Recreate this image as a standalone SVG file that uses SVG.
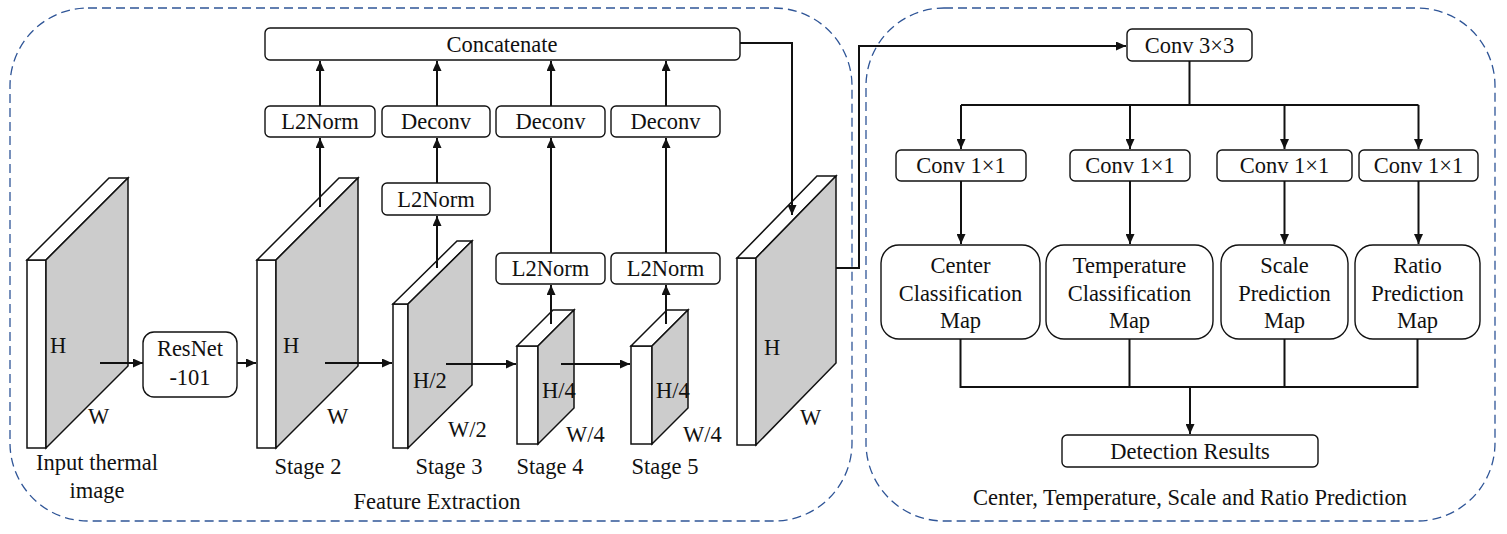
<svg xmlns="http://www.w3.org/2000/svg" width="1507" height="534" viewBox="0 0 1507 534">
<style>
text{font-family:"Liberation Serif","Times New Roman",serif;font-size:22.5px;fill:#111;}
.c{text-anchor:middle;}
.panel{fill:none;stroke:#2f5597;stroke-width:1.3;stroke-dasharray:9 5;}
.box{fill:#fff;stroke:#111;stroke-width:1.4;}
.fw{fill:#fff;stroke:#111;stroke-width:1.5;stroke-linejoin:miter;}
.fg{fill:#cccccc;stroke:#111;stroke-width:1.5;stroke-linejoin:miter;}
.ln{fill:none;stroke:#111;stroke-width:2;}
.ar{fill:none;stroke:#111;stroke-width:2;marker-end:url(#ah);}
</style>
<defs>
<marker id="ah" markerUnits="userSpaceOnUse" markerWidth="11" markerHeight="9" refX="10" refY="4.5" orient="auto">
<path d="M0,0 L10,4.5 L0,9 z" fill="#111"/>
</marker>
</defs>
<rect width="1507" height="534" fill="#fff"/>
<g id="panel-feature">
<rect class="panel" x="10" y="8" width="842" height="513" rx="78" ry="78"/>
<text class="c" x="437" y="509">Feature Extraction</text>
</g>
<g id="panel-prediction">
<rect class="panel" x="866" y="8" width="629" height="513" rx="78" ry="78"/>
<text class="c" x="1190" y="505">Center, Temperature, Scale and Ratio Prediction</text>
</g>
<g id="input-map">
<rect class="fw" x="27" y="260" width="19" height="188"/>
<polygon class="fw" points="27,260 109,178 128,178 46,260"/>
<polygon class="fg" points="46,260 128,178 128,366 46,448"/>
<text x="50" y="353">H</text>
<text x="88" y="424">W</text>
<text class="c" x="97" y="470">Input thermal</text>
<text class="c" x="97" y="498">image</text>
</g>
<g id="stage2">
<rect class="fw" x="257" y="260" width="19" height="188"/>
<polygon class="fw" points="257,260 339,178 358,178 276,260"/>
<polygon class="fg" points="276,260 358,178 358,366 276,448"/>
<text x="283" y="353">H</text>
<text x="327" y="424">W</text>
<text class="c" x="308" y="474">Stage 2</text>
</g>
<g id="stage3">
<rect class="fw" x="393" y="304" width="15" height="144"/>
<polygon class="fw" points="393,304 457,241 472,241 408,304"/>
<polygon class="fg" points="408,304 472,241 472,385 408,448"/>
<text x="413" y="388">H/2</text>
<text x="448" y="437">W/2</text>
<text class="c" x="449" y="474">Stage 3</text>
</g>
<g id="stage4">
<rect class="fw" x="517" y="346" width="21" height="98"/>
<polygon class="fw" points="517,346 553,310 574,310 538,346"/>
<polygon class="fg" points="538,346 574,310 574,408 538,444"/>
<text x="542" y="398">H/4</text>
<text x="566" y="442">W/4</text>
<text class="c" x="550" y="474">Stage 4</text>
</g>
<g id="stage5">
<rect class="fw" x="631" y="346" width="21" height="98"/>
<polygon class="fw" points="631,346 667,310 688,310 652,346"/>
<polygon class="fg" points="652,346 688,310 688,408 652,444"/>
<text x="656" y="398">H/4</text>
<text x="683" y="442">W/4</text>
<text class="c" x="665" y="474">Stage 5</text>
</g>
<g id="concat-map">
<rect class="fw" x="737" y="258" width="19" height="187"/>
<polygon class="fw" points="737,258 817,176 836,176 756,258"/>
<polygon class="fg" points="756,258 836,176 836,363 756,445"/>
<text x="764" y="355">H</text>
<text x="800" y="425">W</text>
</g>
<g id="connectors">
<path class="ar" d="M100,363 H143"/>
<path class="ar" d="M237,363 H256"/>
<path class="ar" d="M325,363 H392"/>
<path class="ar" d="M446,364 H516"/>
<path class="ar" d="M561,364 H630"/>
<path class="ar" d="M320,207 V138"/>
<path class="ar" d="M320,106 V61"/>
<path class="ar" d="M437,268 V216"/>
<path class="ar" d="M437,183 V138"/>
<path class="ar" d="M437,106 V61"/>
<path class="ar" d="M551,324 V285"/>
<path class="ar" d="M551,253 V138"/>
<path class="ar" d="M551,106 V61"/>
<path class="ar" d="M666,324 V285"/>
<path class="ar" d="M666,253 V138"/>
<path class="ar" d="M666,106 V61"/>
<path class="ar" d="M740,43 H792 V215"/>
<path class="ar" d="M836,268 H859 V46 H1126"/>
<path class="ln" d="M1189.5,61 V105 M961,105 H1418.5"/>
<path class="ar" d="M961,105 V149"/>
<path class="ar" d="M1130,105 V149"/>
<path class="ar" d="M1284.5,105 V149"/>
<path class="ar" d="M1418.5,105 V149"/>
<path class="ar" d="M961,181 V244"/>
<path class="ar" d="M1130,181 V244"/>
<path class="ar" d="M1284.5,181 V244"/>
<path class="ar" d="M1418.5,181 V244"/>
<path class="ln" d="M960.5,339 V387 H1417.5 V339 M1129.5,339 V387 M1284.5,339 V387"/>
<path class="ar" d="M1190,387 V434"/>
</g>
<g id="resnet">
<rect class="box" x="143" y="332" width="94" height="65" rx="11"/>
<text class="c" x="190" y="356">ResNet</text>
<text class="c" x="190" y="385">-101</text>
</g>
<g id="concatenate">
<rect class="box" x="265" y="28" width="475" height="32" rx="5"/>
<text class="c" x="502" y="52">Concatenate</text>
</g>
<g id="l2norm-s2">
<rect class="box" x="265" y="106" width="110" height="31" rx="5"/>
<text class="c" x="320" y="129">L2Norm</text>
</g>
<g id="deconv-s3">
<rect class="box" x="382" y="106" width="108" height="31" rx="5"/>
<text class="c" x="436" y="129">Deconv</text>
</g>
<g id="deconv-s4">
<rect class="box" x="496" y="106" width="109" height="31" rx="5"/>
<text class="c" x="550.5" y="129">Deconv</text>
</g>
<g id="deconv-s5">
<rect class="box" x="611" y="106" width="109" height="31" rx="5"/>
<text class="c" x="665.5" y="129">Deconv</text>
</g>
<g id="l2norm-s3">
<rect class="box" x="382" y="183" width="108" height="32" rx="5"/>
<text class="c" x="436" y="207">L2Norm</text>
</g>
<g id="l2norm-s4">
<rect class="box" x="496" y="253" width="109" height="31" rx="5"/>
<text class="c" x="550.5" y="276">L2Norm</text>
</g>
<g id="l2norm-s5">
<rect class="box" x="611" y="253" width="109" height="31" rx="5"/>
<text class="c" x="665.5" y="276">L2Norm</text>
</g>
<g id="conv3x3">
<rect class="box" x="1127" y="29" width="125" height="32" rx="5"/>
<text class="c" x="1189.5" y="53">Conv 3×3</text>
</g>
<g id="conv1x1-a">
<rect class="box" x="896" y="150" width="130" height="31" rx="5"/>
<text class="c" x="961" y="173">Conv 1×1</text>
</g>
<g id="conv1x1-b">
<rect class="box" x="1070" y="150" width="120" height="31" rx="5"/>
<text class="c" x="1130" y="173">Conv 1×1</text>
</g>
<g id="conv1x1-c">
<rect class="box" x="1217" y="150" width="135" height="31" rx="5"/>
<text class="c" x="1284.5" y="173">Conv 1×1</text>
</g>
<g id="conv1x1-d">
<rect class="box" x="1359" y="150" width="119" height="31" rx="5"/>
<text class="c" x="1418.5" y="173">Conv 1×1</text>
</g>
<g id="center-map">
<rect class="box" x="881" y="245" width="159" height="94" rx="18"/>
<text class="c" x="960.5" y="273">Center</text>
<text class="c" x="960.5" y="301">Classification</text>
<text class="c" x="960.5" y="328">Map</text>
</g>
<g id="temperature-map">
<rect class="box" x="1046" y="245" width="167" height="94" rx="18"/>
<text class="c" x="1129.5" y="273">Temperature</text>
<text class="c" x="1129.5" y="301">Classification</text>
<text class="c" x="1129.5" y="328">Map</text>
</g>
<g id="scale-map">
<rect class="box" x="1221" y="245" width="127" height="94" rx="18"/>
<text class="c" x="1284.5" y="273">Scale</text>
<text class="c" x="1284.5" y="301">Prediction</text>
<text class="c" x="1284.5" y="328">Map</text>
</g>
<g id="ratio-map">
<rect class="box" x="1355" y="245" width="125" height="94" rx="18"/>
<text class="c" x="1417.5" y="273">Ratio</text>
<text class="c" x="1417.5" y="301">Prediction</text>
<text class="c" x="1417.5" y="328">Map</text>
</g>
<g id="detection">
<rect class="box" x="1062" y="435" width="256" height="32" rx="5"/>
<text class="c" x="1190" y="459">Detection Results</text>
</g>
</svg>
